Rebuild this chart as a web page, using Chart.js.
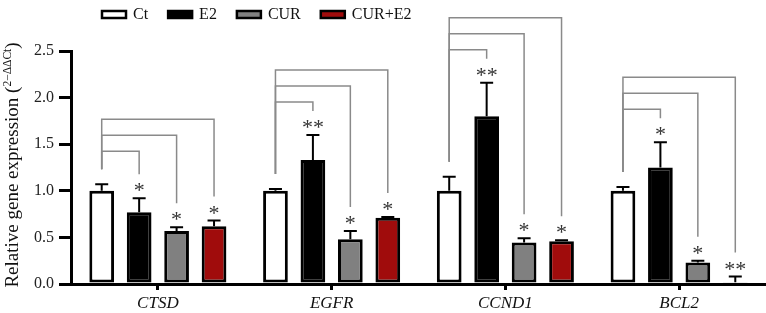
<!DOCTYPE html>
<html>
<head>
<meta charset="utf-8">
<script src="https://cdn.jsdelivr.net/npm/chart.js@4"></script>
<style>
html, body { margin: 0; padding: 0; background: #fff; }
#wrap { width: 766px; height: 313px; position: relative; }
</style>
</head>
<body>
<div id="wrap"><canvas id="barChart"></canvas></div>
<script>
const genes = ["CTSD", "EGFR", "CCND1", "BCL2"];
const groups = ["Ct", "E2", "CUR", "CUR+E2"];
const ct = [1.0, 1.0, 1.0, 1.0];
const ctErr = [0.07, 0.02, 0.15, 0.04];
const e2 = [0.77, 1.33, 1.80, 1.25];
const e2Err = [0.15, 0.27, 0.36, 0.27];
const cur = [0.57, 0.48, 0.445, 0.23];
const curErr = [0.04, 0.09, 0.045, 0.02];
const curE2 = [0.62, 0.71, 0.46, 0.02];
const curE2Err = [0.06, 0.01, 0.01, 0.06];
const ctStars = ["", "", "", ""];
const e2Stars = ["*", "**", "**", "*"];
const curStars = ["*", "*", "*", "*"];
const curE2Stars = ["*", "*", "*", "**"];
const yTicks = [0, 0.5, 1.0, 1.5, 2.0, 2.5];

const errs = [ctErr, e2Err, curErr, curE2Err];
const stars = [ctStars, e2Stars, curStars, curE2Stars];
const fills = ["#ffffff", "#000000", "#808080", "#a00c0c"];
const serif = "'Liberation Serif', 'Times New Roman', serif";

// error bars, significance brackets, stars, legend and axis title
const extras = {
    id: "extras",
    afterDatasetsDraw(chart) {
        const c = chart.ctx;
        const y = chart.scales.y;
        const metas = [0, 1, 2, 3].map(i => chart.getDatasetMeta(i));

        // error bars
        c.save();
        c.strokeStyle = "#000";
        c.lineWidth = 2;
        metas.forEach((m, i) => {
            m.data.forEach((bar, j) => {
                const v = chart.data.datasets[i].data[j];
                const top = y.getPixelForValue(v + errs[i][j]);
                c.beginPath();
                c.moveTo(bar.x, bar.y);
                c.lineTo(bar.x, top);
                c.moveTo(bar.x - 6.5, top);
                c.lineTo(bar.x + 6.5, top);
                c.stroke();
            });
        });
        c.restore();

        // stars + brackets
        genes.forEach((g, j) => {
            const tops = metas.map((m, i) =>
                y.getPixelForValue(chart.data.datasets[i].data[j] + errs[i][j]));
            const highest = Math.min(...tops);
            const x0 = metas[0].data[j].x;
            c.save();
            c.strokeStyle = "#8a8a8a";
            c.lineWidth = 1.5;
            for (let i = 1; i < 4; i++) {
                const level = highest - 33 - (i - 1) * 16;
                const x1 = metas[i].data[j].x;
                c.beginPath();
                c.moveTo(x0, tops[0] - 15);
                c.lineTo(x0, level);
                c.lineTo(x1, level);
                c.lineTo(x1, tops[i] - 24);
                c.stroke();
            }
            c.restore();

            c.save();
            c.fillStyle = "#333";
            c.font = "22px " + serif;
            c.textAlign = "center";
            c.textBaseline = "alphabetic";
            for (let i = 1; i < 4; i++) {
                const s = stars[i][j];
                const x1 = metas[i].data[j].x;
                const by = tops[i] - 12 + 11;
                if (s.length === 1) {
                    c.fillText("*", x1, by);
                } else {
                    c.fillText("*", x1 - 5.5, by);
                    c.fillText("*", x1 + 5.5, by);
                }
            }
            c.restore();
        });

        // legend
        c.save();
        c.font = "16px " + serif;
        c.textBaseline = "alphabetic";
        let lx = 102;
        groups.forEach((name, i) => {
            c.fillStyle = fills[i];
            c.fillRect(lx, 11, 24, 7);
            c.strokeStyle = "#000";
            c.lineWidth = 2.5;
            c.strokeRect(lx, 11, 24, 7);
            c.fillStyle = "#111";
            c.fillText(name, lx + 31, 19);
            lx += 31 + c.measureText(name).width + 20;
        });
        c.restore();

        // y axis title with superscript
        c.save();
        c.translate(18, 165);
        c.rotate(-Math.PI / 2);
        c.fillStyle = "#111";
        c.textBaseline = "alphabetic";
        const main = "Relative gene expression (";
        const sup = "2\u2212\u0394\u0394Ct";
        c.font = "19px " + serif;
        const wMain = c.measureText(main).width;
        const wClose = c.measureText(")").width;
        c.font = "11.5px " + serif;
        const wSup = c.measureText(sup).width;
        let tx = -(wMain + wSup + wClose) / 2;
        c.font = "19px " + serif;
        c.fillText(main, tx, 0);
        tx += wMain;
        c.font = "11.5px " + serif;
        c.fillText(sup, tx, -7.5);
        tx += wSup;
        c.font = "19px " + serif;
        c.fillText(")", tx, 0);
        c.restore();
    }
};

const ctx = document.getElementById("barChart");
new Chart(ctx, {
    type: "bar",
    data: {
        labels: genes,
        datasets: [
            { label: groups[0], data: ct, backgroundColor: fills[0] },
            { label: groups[1], data: e2, backgroundColor: fills[1] },
            { label: groups[2], data: cur, backgroundColor: fills[2] },
            { label: groups[3], data: curE2, backgroundColor: fills[3] },
        ],
    },
    options: {
        responsive: true,
        maintainAspectRatio: false,
        animation: false,
        layout: { padding: { top: 51, left: 0, right: 0, bottom: 0 } },
        datasets: {
            bar: {
                borderColor: "#000",
                borderWidth: 3,
                borderSkipped: false,
                categoryPercentage: 0.862,
                barPercentage: 0.66,
            },
        },
        plugins: {
            legend: { display: false },
            tooltip: { enabled: false },
        },
        scales: {
            x: {
                grid: { drawOnChartArea: false, offset: false, tickLength: 6, lineWidth: 3, color: "#000" },
                border: { display: true, width: 3, color: "#000" },
                ticks: { color: "#111", padding: 3, font: { family: serif, size: 17, style: "italic" } },
                afterFit(scale) { scale.height = 29; },
            },
            y: {
                min: 0,
                max: 2.5,
                grid: { drawOnChartArea: false, tickLength: 12, lineWidth: 3, color: "#000" },
                border: { display: true, width: 3, color: "#000" },
                ticks: {
                    color: "#222",
                    padding: 5,
                    font: { family: serif, size: 16 },
                    callback: v => v.toFixed(1),
                },
                afterBuildTicks(scale) { scale.ticks = yTicks.map(v => ({ value: v })); },
                afterFit(scale) { scale.width = 71; },
            },
        },
    },
    plugins: [extras],
});
</script>
</body>
</html>
